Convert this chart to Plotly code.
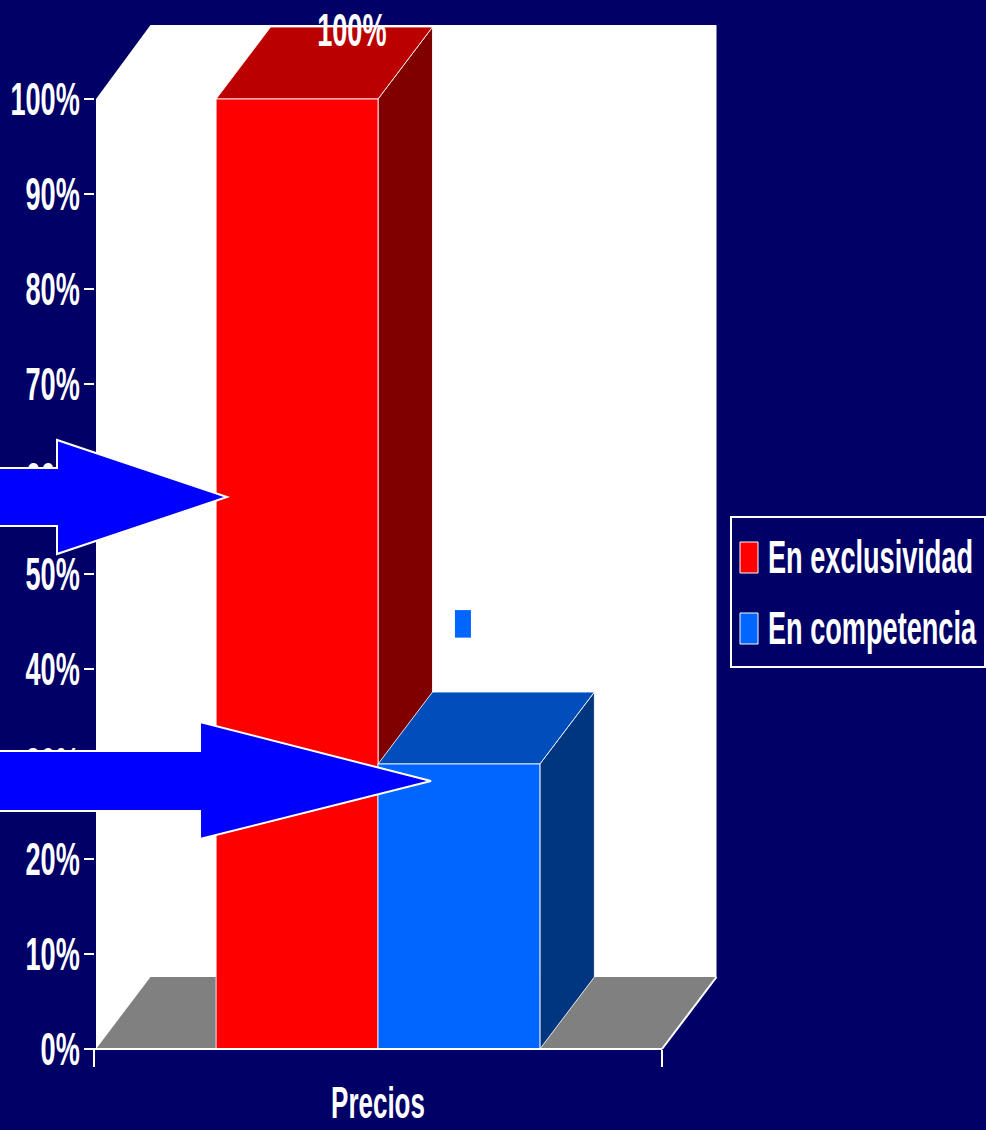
import plotly.graph_objects as go

# ---- data -------------------------------------------------------------
category = ["Precios"]
series_names = ["En exclusividad", "En competencia"]
series_values = [1.00, 0.30]
series_front = ["#FF0000", "#0066FF"]
series_top = ["#BB0000", "#004DBB"]
series_side = ["#800000", "#003580"]
y_ticks = [i / 10 for i in range(11)]
y_ticklabels = [f"{i * 10}%" for i in range(11)]

# ---- figure geometry ---------------------------------------------------
W, H = 986, 1130
BG = "#000066"
FONT = "Liberation Sans, Arial, sans-serif"
FS = 46                 # text size (glyphs are narrowed horizontally below)
NARROW = 0.59

# pixel anchors of the plotting frame
FX0, FX1 = 94, 662      # x = -0.5 .. 0.5
FY0, FY1 = 1049, 99     # y = 0 .. 1
SX = (FX1 - FX0) / 1.0
SY = (FY0 - FY1) / 1.0
x_range = [-0.5 - FX0 / SX, 0.5 + (W - FX1) / SX]
y_range = [-(H - FY0) / SY, 1 + FY1 / SY]

DX = 54.5 / SX          # depth offset of the 3D effect
DY = 72 / SY
BAR_W = 0.285
EDGE = "rgba(255,255,255,0.85)"


def px(x, y):
    """pixel -> paper coordinates"""
    return x / W, 1 - y / H


def poly(pts):
    return "M " + " L ".join(f"{a},{b}" for a, b in pts) + " Z"


fig = go.Figure()
shapes = []

# back / side wall and floor
wl = -0.5 + 2 / SX
shapes.append(dict(type="path", xref="x", yref="y", layer="below",
                   path=poly([(wl, 0), (wl, 1), (wl + DX, 1 + DY + 2 / SY),
                              (0.5 + DX, 1 + DY + 2 / SY), (0.5 + DX, DY), (0.5, 0)]),
                   fillcolor="white", line=dict(width=0)))
shapes.append(dict(type="path", xref="x", yref="y", layer="below",
                   path=poly([(wl, 0), (wl + DX, DY), (0.5 + DX, DY), (0.5, 0)]),
                   fillcolor="#808080", line=dict(width=0)))
shapes.append(dict(type="line", xref="x", yref="y", layer="below",
                   x0=0.5, y0=0, x1=0.5 + DX, y1=DY,
                   line=dict(color="white", width=2)))

# bars: front faces are traces, top/side faces follow from the same values
offsets = [-BAR_W, 0.0]
for name, v, off, cf, ct, cs in zip(series_names, series_values, offsets,
                                     series_front, series_top, series_side):
    x0 = off
    x1 = off + BAR_W
    fig.add_trace(go.Bar(
        x=[0], y=[v], name=name, width=[BAR_W], offset=[off],
        marker=dict(color=cf, line=dict(color=EDGE, width=1)),
        showlegend=False, hoverinfo="skip",
    ))
    shapes.append(dict(type="path", xref="x", yref="y", layer="below",
                       path=poly([(x1, v), (x1 + DX, v + DY), (x1 + DX, DY), (x1, 0)]),
                       fillcolor=cs, line=dict(color=EDGE, width=1)))
    shapes.append(dict(type="path", xref="x", yref="y", layer="below",
                       path=poly([(x0, v), (x1, v), (x1 + DX, v + DY), (x0 + DX, v + DY)]),
                       fillcolor=ct, line=dict(color=EDGE, width=1)))

# small label box above the second bar
bx = offsets[1] + BAR_W / 2
shapes.append(dict(type="rect", xref="x", yref="y", layer="above",
                   x0=bx - 4 / SX, x1=bx + 12 / SX, y0=0.433, y1=0.462,
                   fillcolor="#0066FF", line=dict(width=0)))

# x axis line along the floor front edge
shapes.append(dict(type="line", xref="x", yref="y", layer="above",
                   x0=-0.5, y0=0, x1=0.5, y1=0, line=dict(color="white", width=2)))

# highlight arrows
arrows = [
    [(-5, 468), (57, 468), (57, 440), (227, 497), (57, 554), (57, 526), (-5, 526)],
    [(-5, 751), (200, 751), (200, 722), (431, 781), (200, 839), (200, 811), (-5, 811)],
]
for a in arrows:
    shapes.append(dict(type="path", xref="paper", yref="paper", layer="above",
                       path=poly([px(*p) for p in a]),
                       fillcolor="#0000FF", line=dict(color="white", width=2)))

# legend box with one swatch + label per series
LG_X0, LG_X1, LG_Y0, LG_Y1 = 731, 985, 517, 667
row_y = [557.5, 628.5]
bx0, by0 = px(LG_X0, LG_Y0)
bx1, by1 = px(LG_X1, LG_Y1)
shapes.append(dict(type="rect", xref="paper", yref="paper", layer="above",
                   x0=bx0, y0=by0, x1=bx1, y1=by1,
                   fillcolor=BG, line=dict(color="white", width=2)))
for name, color, ry in zip(series_names, series_front, row_y):
    sx0, sy0 = px(740, ry - 15.5)
    sx1, sy1 = px(758, ry + 15.5)
    shapes.append(dict(type="rect", xref="paper", yref="paper", layer="above",
                       x0=sx0, y0=sy0, x1=sx1, y1=sy1,
                       fillcolor=color, line=dict(color="white", width=1)))
    tx, ty = px(766, ry)
    fig.add_annotation(x=tx, y=ty, xref="paper", yref="paper", text=name,
                       showarrow=False, xanchor="left", yanchor="middle",
                       align="left", yshift=1,
                       font=dict(family=FONT, size=FS, color="white", weight="bold"))

# value label on the first bar
fig.add_annotation(x=offsets[0] + BAR_W / 2 + DX, y=series_values[0] + DY,
                   xref="x", yref="y", text=f"{series_values[0]:.0%}",
                   showarrow=False, yanchor="middle", yshift=-3,
                   font=dict(family=FONT, size=FS, color="white", weight="bold"))

fig.update_layout(
    width=W, height=H,
    margin=dict(l=0, r=0, t=0, b=0, autoexpand=False),
    paper_bgcolor=BG, plot_bgcolor="rgba(0,0,0,0)",
    barmode="overlay",
    shapes=shapes,
    showlegend=False,
    xaxis=dict(range=x_range, domain=[0, 1], showgrid=False, zeroline=False,
               showline=False, anchor="free", position=1 - FY0 / H,
               tickvals=[0], ticktext=category, ticks="", ticklabelstandoff=24,
               tickfont=dict(family=FONT, size=FS - 2, color="white", weight="bold"),
               minor=dict(tickvals=[-0.5, 0.5], ticks="outside", ticklen=17,
                          tickcolor="white", tickwidth=2)),
    yaxis=dict(range=y_range, domain=[0, 1], showgrid=False, zeroline=False,
               showline=False, anchor="free", position=FX0 / W,
               tickvals=y_ticks, ticktext=y_ticklabels, ticks="outside",
               ticklen=10, tickwidth=2, tickcolor="white", ticklabelstandoff=-5,
               tickfont=dict(family=FONT, size=FS, color="white", weight="bold")),
)

# narrow every text element horizontally about its own anchor point
narrow_js = """
var k = %s;
document.querySelectorAll('svg.main-svg text').forEach(function (t) {
  var x = parseFloat(t.getAttribute('x')) || 0;
  var tr = t.getAttribute('transform') || '';
  t.setAttribute('transform', tr + ' translate(' + x + ',0) scale(' + k + ',1) translate(' + (-x) + ',0)');
});
""" % NARROW

fig.write_html("out.html", post_script=narrow_js, config={"responsive": False})
